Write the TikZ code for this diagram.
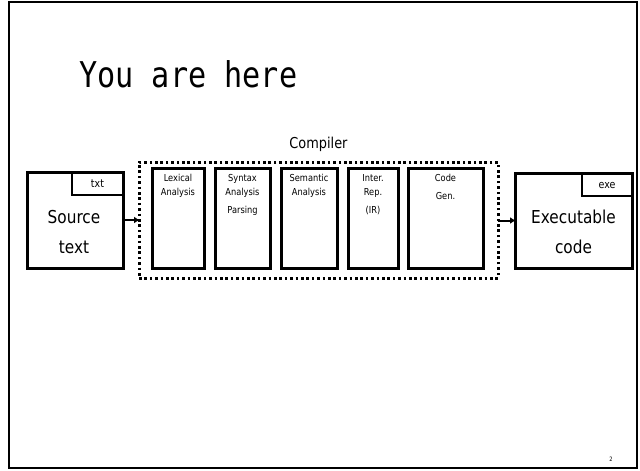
\documentclass[tikz,border=0pt]{standalone}
\usepackage{fontspec}
\setmainfont{DejaVu Sans}[FakeStretch=0.86]
\newfontfamily\titlefont{DejaVu Sans Mono}[FakeStretch=0.85]
\usetikzlibrary{arrows.meta}
\begin{document}
\begin{tikzpicture}[x=1pt,y=-1pt,
  box/.style={draw, line width=3pt, inner sep=0pt, outer sep=0pt},
  tabbox/.style={draw, line width=2.5pt, inner sep=0pt, outer sep=0pt},
  dotbox/.style={draw, line width=3pt, dash pattern=on 2.6pt off 2.8pt, inner sep=0pt, outer sep=0pt},
  lbl/.style={anchor=base, inner sep=0pt, font=\fontsize{9.6}{10}\selectfont},
  big/.style={anchor=base, inner sep=0pt, font=\fontsize{17.8}{20}\selectfont},
  tabtxt/.style={anchor=base, inner sep=0pt, font=\fontsize{11}{12}\selectfont},
  arr/.style={line width=2pt, -{Triangle[length=5pt,width=6pt]}}]
\useasboundingbox (0,0) rectangle (640,471);
\fill[white] (0,0) rectangle (640,471);
\draw[line width=2.5pt] (9,2) rectangle (637,468);
% title
\node[anchor=base west, inner sep=0pt, font=\titlefont\fontsize{35.5}{40}\selectfont] (title) at (79,87) {You are here};
% source
\node[box, minimum width=96pt, minimum height=96pt] (src) at (75,220) {};
\node[tabbox, minimum width=51pt, minimum height=23pt] (srctab) at (97.5,183.5) {};
\node[tabtxt] (txt) at (97.5,187.5) {txt};
\node[big] (src1) at (74,223.5) {Source};
\node[big] (src2) at (74,253.5) {text};
% compiler
\node[dotbox, minimum width=359pt, minimum height=116pt] (comp) at (318.5,220) {};
\node[anchor=base, inner sep=0pt, font=\fontsize{15}{16}\selectfont] (complbl) at (318.5,148) {Compiler};
\node[box, minimum width=52pt, minimum height=100pt] (lex) at (178,218) {};
\node[lbl] (lex1) at (178,181.5) {Lexical};
\node[lbl] (lex2) at (178,195.5) {Analysis};
\node[box, minimum width=55pt, minimum height=100pt] (syn) at (242.5,218) {};
\node[lbl] (syn1) at (242.5,181.5) {Syntax};
\node[lbl] (syn2) at (242.5,195.5) {Analysis};
\node[lbl] (syn3) at (242.5,213.5) {Parsing};
\node[box, minimum width=56pt, minimum height=100pt] (sem) at (309,218) {};
\node[lbl] (sem1) at (309,181.5) {Semantic};
\node[lbl] (sem2) at (309,195.5) {Analysis};
\node[box, minimum width=50pt, minimum height=100pt] (ir) at (373,218) {};
\node[lbl] (ir1) at (373,181.5) {Inter.};
\node[lbl] (ir2) at (373,195.5) {Rep.};
\node[lbl] (ir3) at (373,213.5) {(IR)};
\node[box, minimum width=75pt, minimum height=100pt] (cg) at (445.5,218) {};
\node[lbl] (cg1) at (445.5,181.5) {Code};
\node[lbl] (cg2) at (445.5,199.5) {Gen.};
% executable
\node[box, minimum width=117pt, minimum height=95pt] (exe) at (573.5,220.5) {};
\node[tabbox, minimum width=50pt, minimum height=23pt] (exetab) at (607,184.5) {};
\node[tabtxt] (exetxt) at (607,188) {exe};
\node[big] (exe1) at (573.5,223.5) {Executable};
\node[big] (exe2) at (573.5,253.5) {code};
% arrows
\draw[arr] (src.east) -- (src.east -| comp.west);
\draw[arr] (comp.east |- exe.west) -- (exe.west);
% slide number
\node[anchor=base, inner sep=0pt, font=\fontsize{6}{7}\selectfont] (pg) at (611,461) {2};
\end{tikzpicture}
\end{document}
